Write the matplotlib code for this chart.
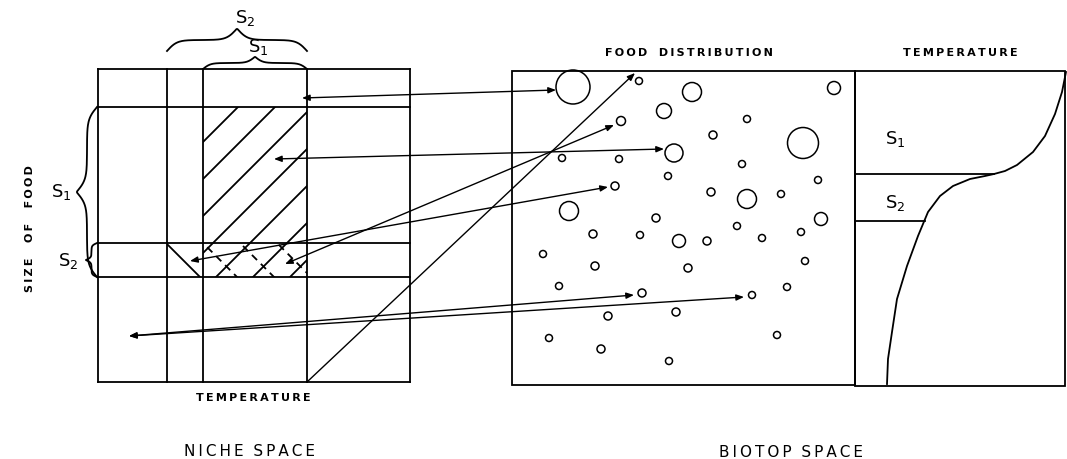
#!/usr/bin/env python3
"""Niche space vs biotop space diagram"""

import matplotlib.pyplot as plt
from matplotlib.patches import Rectangle, Circle
import numpy as np

# food items in the biotop box: x, y, radius (pixel units)
food_x = [573, 639, 692, 834, 664, 621, 747, 713, 803, 674, 562, 619, 742, 668,
          818, 615, 711, 747, 781, 569, 821, 656, 737, 593, 640, 679, 707, 762,
          801, 543, 595, 688, 805, 559, 787, 642, 752, 608, 676, 549, 777, 601, 669]
food_y = [88, 82, 93, 89, 112, 122, 120, 136, 144, 154, 159, 160, 165, 177,
          181, 187, 193, 200, 195, 212, 220, 219, 227, 235, 236, 242, 242, 239,
          233, 255, 267, 269, 262, 287, 288, 294, 296, 317, 313, 339, 336, 350, 362]
food_r = [17, 3.5, 9.5, 6.5, 7.5, 4.5, 3.5, 4, 15.5, 9, 3.5, 3.5, 3.5, 3.5,
          3.5, 4, 4, 9.5, 3.5, 9.5, 6.5, 4, 3.5, 4, 3.5, 6.5, 4, 3.5,
          3.5, 3.5, 4, 4, 3.5, 3.5, 3.5, 4, 3.5, 4, 4, 3.5, 3.5, 4, 3.5]

# niche grid
grid_x = [98, 167, 203, 307, 410]
grid_y = [70, 108, 244, 278, 383]

# arrows between niche space and food items: (x0, y0, x1, y1)
links = [(302, 99, 556, 91),
         (274, 160, 664, 150),
         (285, 265, 614, 126),
         (190, 262, 608, 188),
         (129, 337, 634, 296),
         (129, 337, 744, 298)]

# temperature profile
temp_x = [1066, 1062, 1055, 1045, 1033, 1017, 1005, 994, 985, 970, 953, 940,
          928, 918, 907, 897, 892, 888, 887]
temp_y = [73, 93, 115, 137, 153, 166, 172, 175, 177, 180, 187, 197,
          213, 237, 267, 300, 333, 360, 385]

LW = 1.3
INK = "black"


def spaced(s, gap="\u2009", word="  "):
    """Spread the letters the way the hand lettering does"""
    return word.join(gap.join(w) for w in s.split())


def brace(ax, a0, a1, pos, depth, vertical=False):
    """Curly brace from a0 to a1, tip pointing towards negative side"""
    half = np.linspace(0, 1, 80)
    beta = 14.0
    yh = 1 / (1 + np.exp(-beta * (half - half[0]))) + \
        1 / (1 + np.exp(-beta * (half - half[-1])))
    yh = (yh - yh.min()) / (yh.max() - yh.min())
    prof = np.concatenate([yh, yh[::-1]])
    along = np.linspace(a0, a1, prof.size)
    across = pos - depth * prof
    if vertical:
        ax.plot(across, along, color=INK, lw=LW)
    else:
        ax.plot(along, across, color=INK, lw=LW)


fig = plt.figure(figsize=(10.67, 4.6), dpi=100)
ax = fig.add_axes([0, 0, 1, 1])
ax.set_xlim(0, 1067)
ax.set_ylim(460, 0)
ax.axis("off")

# niche grid
for gx in grid_x:
    ax.plot([gx, gx], [grid_y[0], grid_y[-1]], color=INK, lw=LW)
for gy in grid_y:
    ax.plot([grid_x[0], grid_x[-1]], [gy, gy], color=INK, lw=LW)

# hatching of S1 niche
clip1 = Rectangle((203, 108), 104, 170, transform=ax.transData)
for c in range(309, 600, 37):
    ln, = ax.plot([c - 300, c], [300, 0], color=INK, lw=LW)
    ln.set_clip_path(clip1)

# hatching of S2 niche
clip2a = Rectangle((167, 244), 36, 34, transform=ax.transData)
clip2b = Rectangle((203, 244), 104, 34, transform=ax.transData)
for d in range(-107, 130, 37):
    ln, = ax.plot([100, 400], [100 + d, 400 + d], color=INK, lw=LW)
    ln.set_clip_path(clip2a)
    ln, = ax.plot([100, 400], [100 + d, 400 + d], color=INK, lw=LW,
                  ls=(0, (4, 3)))
    ln.set_clip_path(clip2b)

# braces
brace(ax, 167, 307, 52, 22)
brace(ax, 203, 307, 70, 12)
brace(ax, 108, 278, 97, 20, vertical=True)
brace(ax, 244, 278, 97, 11, vertical=True)

sfont = dict(fontsize=13, color=INK, ha="center", va="center")
ax.text(245, 18, "S$_2$", **sfont)
ax.text(258, 47, "S$_1$", **sfont)
ax.text(61, 192, "S$_1$", **sfont)
ax.text(68, 261, "S$_2$", **sfont)

lab = dict(fontsize=8, fontweight="bold", color=INK, ha="center", va="center")
ax.text(30, 229, spaced("SIZE OF FOOD", word="    "), rotation=90, **lab)
ax.text(253, 398, spaced("TEMPERATURE"), **lab)
ax.text(689, 53, spaced("FOOD DISTRIBUTION", word="   "), **lab)
ax.text(960, 53, spaced("TEMPERATURE"), **lab)
big = dict(fontsize=11, color=INK, ha="center", va="center")
ax.text(250, 452, spaced("NICHE SPACE"), **big)
ax.text(791, 453, spaced("BIOTOP SPACE"), **big)

# biotop box
ax.add_patch(Rectangle((512, 72), 343, 314, fill=False, ec=INK, lw=LW))
ax.add_patch(Rectangle((855, 72), 210, 315, fill=False, ec=INK, lw=LW))
ax.plot([855, 994], [175, 175], color=INK, lw=LW)
ax.plot([855, 925], [222, 222], color=INK, lw=LW)
ax.text(895, 139, "S$_1$", **sfont)
ax.text(895, 203, "S$_2$", **sfont)
ax.plot(temp_x, temp_y, color=INK, lw=LW)

for fx, fy, fr in zip(food_x, food_y, food_r):
    ax.add_patch(Circle((fx, fy), fr, fill=False, ec=INK, lw=1.1))

# arrows
head = "<|-|>,head_length=0.45,head_width=0.18"
for x0, y0, x1, y1 in links:
    ax.annotate("", xy=(x1, y1), xytext=(x0, y0),
                arrowprops=dict(arrowstyle=head, color=INK, lw=1.0,
                                shrinkA=0, shrinkB=0))
ax.annotate("", xy=(635, 74), xytext=(307, 383),
            arrowprops=dict(arrowstyle="-|>,head_length=0.45,head_width=0.18",
                            color=INK, lw=1.0, shrinkA=0, shrinkB=0))

fig.savefig("out.png", dpi=100)
